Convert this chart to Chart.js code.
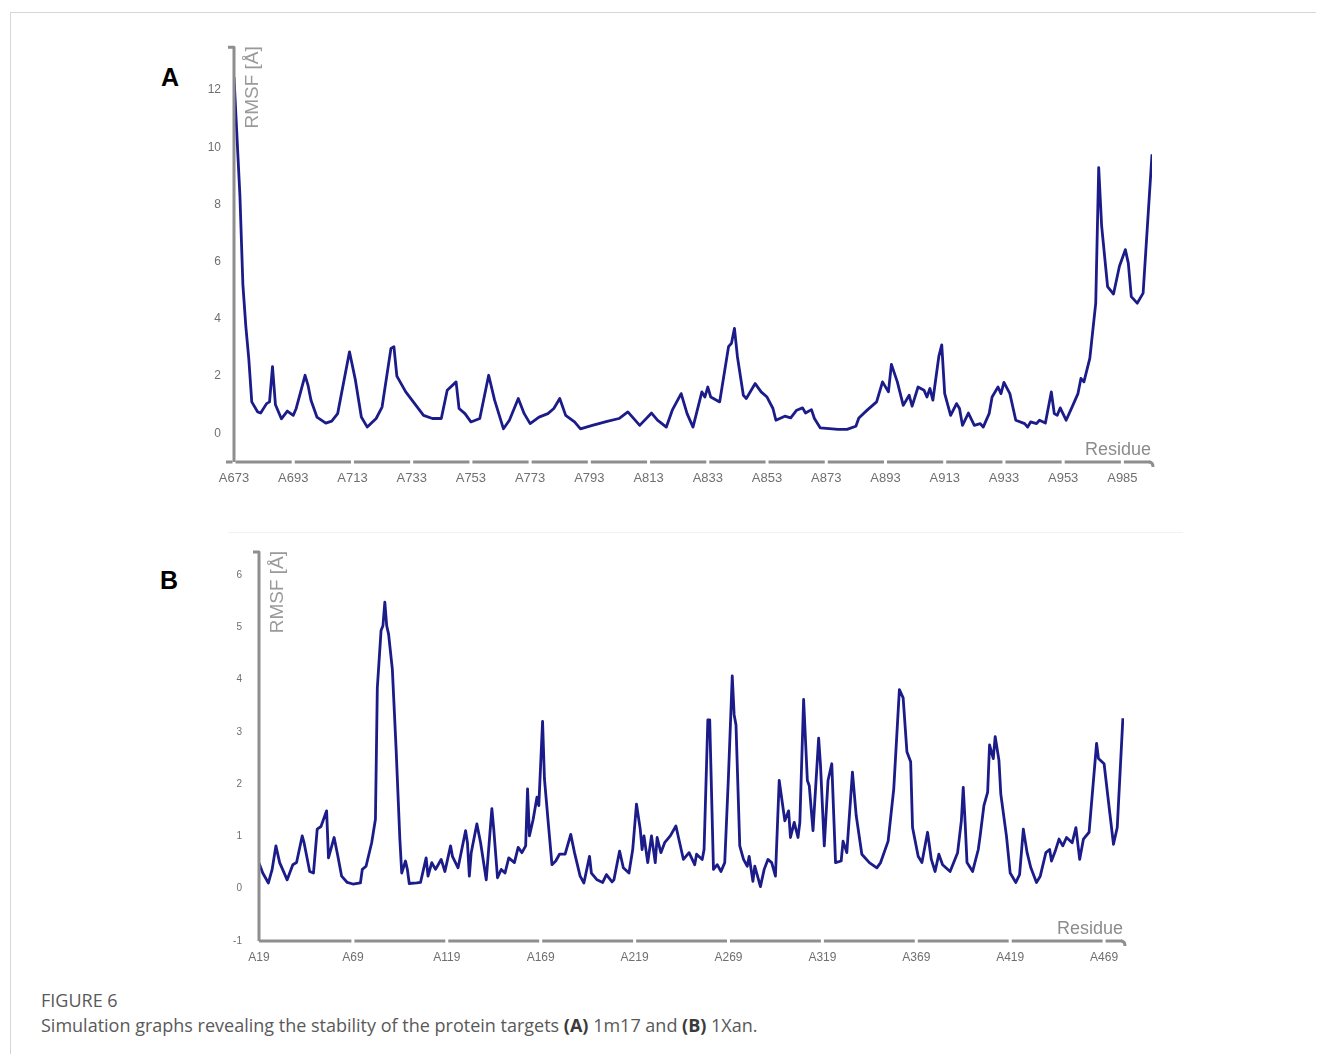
<!DOCTYPE html>
<html lang="en">
<head>
<meta charset="utf-8">
<title>Figure 6 - RMSF</title>
<script src="https://cdn.jsdelivr.net/npm/chart.js@4.4.1/dist/chart.umd.min.js"></script>
<style>
  html, body { margin: 0; padding: 0; background: #fff; }
  body { width: 1319px; height: 1054px; position: relative; overflow: hidden; font-family: "Liberation Sans", Arial, sans-serif; }
  .marco-top { position: absolute; left: 10px; top: 12px; width: 1306px; border-top: 1px solid #d6d6d6; }
  .marco-izq { position: absolute; left: 10px; top: 12px; height: 1042px; border-left: 1px solid #d6d6d6; }
  .separador { position: absolute; left: 228px; top: 532px; width: 955px; border-top: 1px solid #f1f1f1; }
  .letra { position: absolute; font: bold 25px/25px "Liberation Sans", Arial, sans-serif; color: #000; }
  .lienzo { position: absolute; }
  .pie { position: absolute; left: 41px; font-family: "Open Sans", sans-serif; font-size: 18px; line-height: 20px; color: #595959; white-space: nowrap; }
  .pie b { color: #3a3a3a; font-weight: 700; }
</style>
</head>
<body>
<div class="marco-top"></div>
<div class="marco-izq"></div>
<div class="separador"></div>

<div class="letra" style="left:161px; top:65px;">A</div>
<div class="lienzo" style="left:150px; top:26px; width:1030px; height:484px;"><canvas id="graficoA"></canvas></div>

<div class="letra" style="left:160px; top:568px;">B</div>
<div class="lienzo" style="left:150px; top:528px; width:1000px; height:452px;"><canvas id="graficoB"></canvas></div>

<div class="pie" style="top:990px;">FIGURE 6</div>
<div class="pie" style="top:1015px;">Simulation graphs revealing the stability of the protein targets <b>(A)</b> 1m17 and <b>(B)</b> 1Xan.</div>

<script>
// Panel A (1m17): índice de residuo desde A673 y RMSF
const residuosA = [0, 2, 3, 4, 5, 6, 8, 9, 11, 12, 13, 14, 16, 18, 20, 21, 24, 25, 26, 28, 31, 33, 35, 39, 41, 43, 45, 48, 50, 53, 54, 55, 58, 61, 64, 67, 70, 72, 75, 76, 78, 80, 83, 86, 88, 91, 93, 96, 98, 100, 103, 106, 108, 110, 112, 115, 117, 121, 126, 130, 133, 137, 141, 143, 146, 148, 151, 153, 155, 158, 159, 160, 161, 164, 167, 168, 169, 170, 172, 173, 176, 178, 180, 182, 183, 186, 188, 190, 192, 193, 195, 196, 198, 204, 207, 210, 211, 214, 217, 219, 221, 222, 224, 226, 228, 229, 231, 233, 234, 235, 236, 238, 239, 240, 242, 244, 245, 246, 248, 250, 252, 253, 255, 256, 258, 259, 260, 262, 264, 267, 268, 269, 271, 272, 274, 276, 277, 278, 279, 281, 283, 285, 286, 287, 289, 291, 292, 293, 295, 297, 299, 301, 302, 303, 305, 307, 310];
const rmsfA = [12.45, 8.3, 5.2, 3.73, 2.6, 1.1, 0.75, 0.71, 1.04, 1.1, 2.33, 1.0, 0.51, 0.78, 0.63, 0.87, 2.03, 1.68, 1.16, 0.57, 0.36, 0.43, 0.69, 2.85, 1.86, 0.57, 0.22, 0.52, 0.92, 2.97, 3.03, 2.0, 1.45, 1.04, 0.63, 0.52, 0.52, 1.51, 1.8, 0.87, 0.69, 0.4, 0.52, 2.03, 1.16, 0.16, 0.46, 1.22, 0.69, 0.34, 0.57, 0.69, 0.87, 1.22, 0.63, 0.4, 0.16, 0.28, 0.42, 0.52, 0.75, 0.28, 0.71, 0.46, 0.22, 0.81, 1.39, 0.69, 0.22, 1.45, 1.27, 1.62, 1.27, 1.1, 3.03, 3.15, 3.67, 2.68, 1.33, 1.22, 1.74, 1.45, 1.27, 0.87, 0.46, 0.6, 0.54, 0.81, 0.89, 0.71, 0.83, 0.52, 0.19, 0.14, 0.14, 0.25, 0.54, 0.83, 1.1, 1.8, 1.45, 2.41, 1.8, 0.98, 1.33, 0.95, 1.62, 1.51, 1.27, 1.57, 1.16, 2.68, 3.09, 1.39, 0.63, 1.04, 0.87, 0.28, 0.71, 0.28, 0.34, 0.22, 0.69, 1.27, 1.62, 1.39, 1.78, 1.39, 0.46, 0.34, 0.22, 0.4, 0.34, 0.46, 0.36, 1.45, 0.69, 0.63, 0.89, 0.46, 0.92, 1.39, 1.92, 1.8, 2.62, 4.55, 9.29, 7.24, 5.13, 4.87, 5.84, 6.42, 5.95, 4.78, 4.55, 4.9, 9.75];
const ticksXA = [0, 20, 40, 60, 80, 100, 120, 140, 160, 180, 200, 220, 240, 260, 280, 300];
const etiquetasA = ['A673', 'A693', 'A713', 'A733', 'A753', 'A773', 'A793', 'A813', 'A833', 'A853', 'A873', 'A893', 'A913', 'A933', 'A953', 'A985'];
const ticksYA = [0, 2, 4, 6, 8, 10, 12];

// Panel B (1Xan): índice de residuo desde A19
const residuosB = [0, 2, 5, 7, 9, 11, 15, 18, 20, 23, 24, 27, 29, 31, 33, 36, 37, 40, 42, 44, 47, 50, 54, 55, 57, 60, 62, 63, 65, 66, 67, 68, 69, 71, 73, 75, 76, 78, 79, 80, 84, 86, 89, 90, 92, 94, 97, 99, 102, 103, 106, 110, 111, 112, 113, 116, 118, 121, 124, 125, 127, 129, 131, 133, 136, 138, 140, 142, 143, 144, 146, 148, 149, 151, 152, 154, 156, 158, 160, 163, 166, 168, 171, 173, 176, 177, 180, 183, 185, 188, 189, 192, 194, 197, 199, 201, 203, 204, 205, 207, 209, 211, 212, 214, 216, 219, 222, 224, 226, 229, 232, 233, 236, 237, 239, 240, 242, 244, 246, 248, 250, 252, 253, 254, 256, 258, 260, 261, 263, 264, 267, 269, 271, 273, 275, 277, 280, 282, 283, 285, 287, 288, 290, 292, 293, 295, 298, 299, 301, 303, 305, 307, 310, 311, 313, 316, 318, 321, 325, 329, 331, 335, 338, 341, 343, 345, 347, 348, 351, 353, 356, 358, 360, 362, 364, 368, 372, 374, 375, 376, 377, 380, 383, 384, 386, 388, 389, 391, 392, 394, 395, 398, 400, 403, 405, 407, 409, 411, 414, 416, 419, 421, 422, 424, 426, 428, 430, 433, 435, 437, 439, 442, 446, 447, 450, 453, 455, 457, 460];
const rmsfB = [0.49, 0.3, 0.11, 0.37, 0.82, 0.5, 0.17, 0.46, 0.5, 1.01, 0.88, 0.33, 0.3, 1.14, 1.19, 1.49, 0.59, 0.98, 0.62, 0.24, 0.12, 0.09, 0.11, 0.37, 0.43, 0.88, 1.33, 3.84, 4.94, 5.03, 5.48, 5.03, 4.87, 4.2, 2.68, 0.95, 0.3, 0.53, 0.37, 0.1, 0.11, 0.12, 0.59, 0.24, 0.5, 0.37, 0.56, 0.33, 0.82, 0.62, 0.4, 1.11, 0.88, 0.24, 0.69, 1.24, 0.88, 0.17, 1.53, 1.14, 0.21, 0.37, 0.3, 0.59, 0.5, 0.79, 0.69, 0.82, 1.91, 1.01, 1.33, 1.75, 1.59, 3.2, 2.1, 1.27, 0.46, 0.53, 0.66, 0.66, 1.04, 0.69, 0.24, 0.11, 0.62, 0.3, 0.17, 0.12, 0.27, 0.13, 0.17, 0.72, 0.4, 0.3, 0.75, 1.62, 1.14, 0.75, 1.01, 0.5, 1.01, 0.5, 0.98, 0.69, 0.88, 1.01, 1.2, 0.88, 0.56, 0.69, 0.46, 0.66, 0.56, 0.75, 3.23, 3.23, 0.37, 0.46, 0.33, 0.5, 2.17, 4.07, 3.33, 3.13, 0.82, 0.56, 0.43, 0.62, 0.14, 0.43, 0.04, 0.37, 0.56, 0.5, 0.24, 2.07, 1.3, 1.49, 0.98, 1.27, 0.98, 1.27, 3.62, 2.07, 1.97, 1.11, 2.88, 2.36, 0.82, 2.07, 2.39, 0.5, 0.53, 0.91, 0.69, 2.23, 1.4, 0.66, 0.5, 0.4, 0.5, 0.91, 1.91, 3.81, 3.65, 2.62, 2.43, 1.17, 0.62, 0.5, 1.08, 0.56, 0.33, 0.66, 0.46, 0.33, 0.69, 1.3, 1.94, 1.27, 0.5, 0.33, 0.75, 1.01, 1.59, 1.85, 2.75, 2.49, 2.91, 2.46, 1.81, 1.01, 0.3, 0.12, 0.27, 1.14, 0.69, 0.4, 0.12, 0.24, 0.69, 0.75, 0.53, 0.72, 0.95, 0.82, 0.98, 0.88, 1.17, 0.56, 0.95, 1.08, 2.78, 2.49, 2.39, 1.46, 0.85, 1.17, 3.26];
const ticksXB = [0, 50, 100, 150, 200, 250, 300, 350, 400, 450];
const etiquetasB = ['A19', 'A69', 'A119', 'A169', 'A219', 'A269', 'A319', 'A369', 'A419', 'A469'];
const ticksYB = [-1, 0, 1, 2, 3, 4, 5, 6];

const GRIS_EJE = '#8e8e8e';
const AZUL = '#1b1b8a';

// dibuja los ejes a mano: gancho arriba, eje x por tramos y títulos dentro del área
const ejesRmsf = {
  id: 'ejesRmsf',
  afterDatasetsDraw(chart, args, opts) {
    const { ctx, chartArea: a, scales: { x } } = chart;
    ctx.save();
    ctx.strokeStyle = GRIS_EJE;
    ctx.lineWidth = 3;
    ctx.lineJoin = 'round';

    // eje y
    ctx.beginPath();
    ctx.moveTo(a.left - 6, a.top + 1);
    ctx.lineTo(a.left, a.top + 1);
    ctx.lineTo(a.left, a.bottom);
    ctx.stroke();

    // eje x cortado en cada tick
    const inicio = a.left - opts.salida;
    const cortes = x.ticks.map(t => x.getPixelForValue(t.value)).filter(p => p > inicio + 3);
    const puntos = [inicio, ...cortes, a.right];
    for (let i = 0; i < puntos.length - 1; i++) {
      ctx.beginPath();
      ctx.moveTo(puntos[i] + (i ? 1.5 : 0), a.bottom);
      ctx.lineTo(puntos[i + 1] - 1.5, a.bottom);
      ctx.stroke();
    }
    ctx.beginPath();
    ctx.moveTo(a.right - 3, a.bottom);
    ctx.quadraticCurveTo(a.right + 1, a.bottom, a.right + 1, a.bottom + 5);
    ctx.stroke();

    // títulos de ejes
    ctx.fillStyle = '#8c8c8c';
    ctx.font = '18px "Liberation Sans", Arial, sans-serif';
    ctx.textAlign = 'right';
    ctx.textBaseline = 'alphabetic';
    ctx.fillText('Residue', a.right - 1, a.bottom - 7);

    ctx.fillStyle = '#9a9a9a';
    ctx.font = '19px "Liberation Sans", Arial, sans-serif';
    ctx.translate(a.left + 24, a.top);
    ctx.rotate(-Math.PI / 2);
    ctx.fillText('RMSF [Å]', 0, 0);
    ctx.restore();
  }
};

function crearGrafico(id, cfg) {
  const datos = cfg.residuos.map((r, i) => ({ x: r, y: cfg.valores[i] }));
  return new Chart(document.getElementById(id), {
    type: 'line',
    data: {
      datasets: [{
        data: datos,
        borderColor: AZUL,
        borderWidth: 2.8,
        borderJoinStyle: 'round',
        pointRadius: 0,
        tension: 0,
        fill: false
      }]
    },
    options: {
      responsive: true,
      maintainAspectRatio: false,
      animation: false,
      layout: { padding: cfg.padding },
      scales: {
        x: {
          type: 'linear',
          min: 0,
          max: cfg.maxX,
          afterBuildTicks: s => { s.ticks = cfg.ticksX.map(v => ({ value: v })); },
          afterFit: s => { s.height = cfg.altoX; },
          grid: { display: false, drawTicks: false },
          border: { display: false },
          ticks: {
            autoSkip: false,
            maxRotation: 0,
            padding: cfg.padX,
            color: '#6f6f6f',
            font: { size: cfg.fuenteX, family: '"Liberation Sans", Arial, sans-serif' },
            callback: v => cfg.etiquetas[cfg.ticksX.indexOf(v)]
          }
        },
        y: {
          min: -1,
          max: cfg.maxY,
          afterBuildTicks: s => { s.ticks = cfg.ticksY.map(v => ({ value: v })); },
          afterFit: s => { s.width = cfg.anchoY; },
          grid: { display: false, drawTicks: false },
          border: { display: false },
          ticks: {
            padding: cfg.padY,
            color: '#6f6f6f',
            font: { size: cfg.fuenteY, family: '"Liberation Sans", Arial, sans-serif' }
          }
        }
      },
      plugins: {
        legend: { display: false },
        tooltip: { enabled: false },
        ejesRmsf: { salida: cfg.salida }
      }
    },
    plugins: [ejesRmsf]
  });
}

crearGrafico('graficoA', {
  residuos: residuosA, valores: rmsfA,
  ticksX: ticksXA, etiquetas: etiquetasA, ticksY: ticksYA,
  maxX: 310, maxY: 13.53,
  padding: { top: 8, right: 28, left: 0, bottom: 0 },
  anchoY: 84, altoX: 48, padX: 9, padY: 13,
  fuenteX: 13, fuenteY: 12, salida: 8
});

crearGrafico('graficoB', {
  residuos: residuosB, valores: rmsfB,
  ticksX: ticksXB, etiquetas: etiquetasB, ticksY: ticksYB,
  maxX: 460.6, maxY: 6.46,
  padding: { top: 13, right: 26, left: 0, bottom: 0 },
  anchoY: 109, altoX: 39, padX: 9, padY: 17,
  fuenteX: 12, fuenteY: 10, salida: 0
});
</script>
</body>
</html>
